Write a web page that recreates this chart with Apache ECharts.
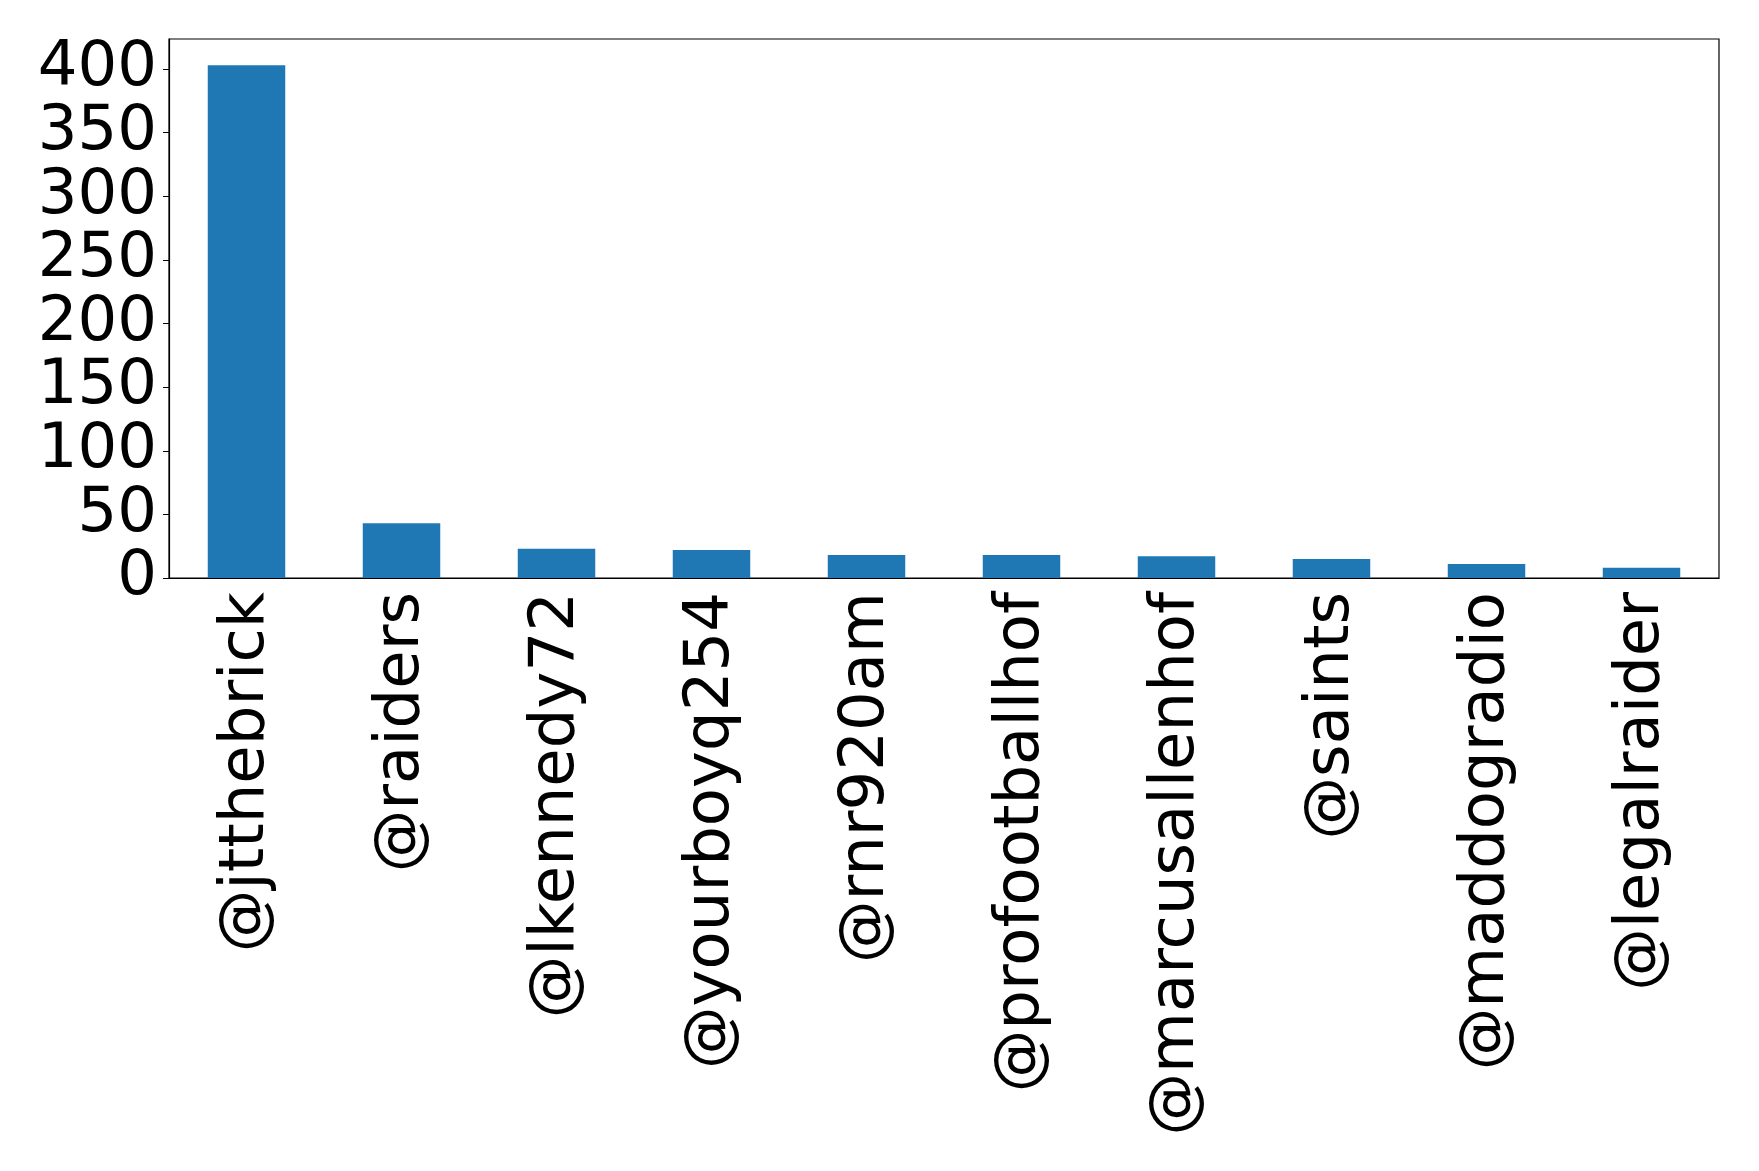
<!DOCTYPE html>
<html>
<head>
<meta charset="utf-8">
<script src="https://cdn.jsdelivr.net/npm/echarts@6/dist/echarts.min.js"></script>
<style>
  html, body { margin: 0; padding: 0; background: #fff; }
  #main { width: 1759px; height: 1171px; }
</style>
</head>
<body>
<div id="main"></div>
<script>
// mention counts per account
var accounts = ['@jtthebrick', '@raiders', '@lkennedy72', '@yourboyq254', '@rnr920am',
  '@profootballhof', '@marcusallenhof', '@saints', '@maddogradio', '@legalraider'];
var counts = [403, 43, 23, 22, 18, 18, 17, 15, 11, 8];
var yTicks = [0, 50, 100, 150, 200, 250, 300, 350, 400];

var font = 'DejaVu Sans';
var myChart = echarts.init(document.getElementById('main'));
myChart.setOption({
  backgroundColor: '#ffffff',
  animation: false,
  grid: {
    left: 169,
    right: 40,
    top: 39,
    bottom: 593,
    show: true,
    borderColor: '#000',
    borderWidth: 1.2,
    backgroundColor: 'transparent'
  },
  xAxis: {
    type: 'category',
    data: accounts,
    axisLine: { lineStyle: { color: '#000', width: 1.2 } },
    axisTick: { alignWithLabel: true, length: 6, lineStyle: { color: '#000' } },
    axisLabel: {
      rotate: 90,
      fontFamily: font,
      fontSize: 62.5,
      color: '#000',
      margin: 14,
      interval: 0
    },
    splitLine: { show: false }
  },
  yAxis: {
    type: 'value',
    min: 0,
    max: 423.6,
    interval: 50,
    axisLine: { show: true, lineStyle: { color: '#000', width: 1.2 } },
    axisTick: { show: true, length: 6, customValues: yTicks, lineStyle: { color: '#000' } },
    axisLabel: {
      customValues: yTicks,
      fontFamily: font,
      fontSize: 62.5,
      color: '#000',
      margin: 12,
      padding: [12, 0, 0, 0]
    },
    splitLine: { show: false }
  },
  series: [{
    type: 'bar',
    data: counts,
    barWidth: '50%',
    itemStyle: { color: '#1f77b4' }
  }]
});
</script>
</body>
</html>
